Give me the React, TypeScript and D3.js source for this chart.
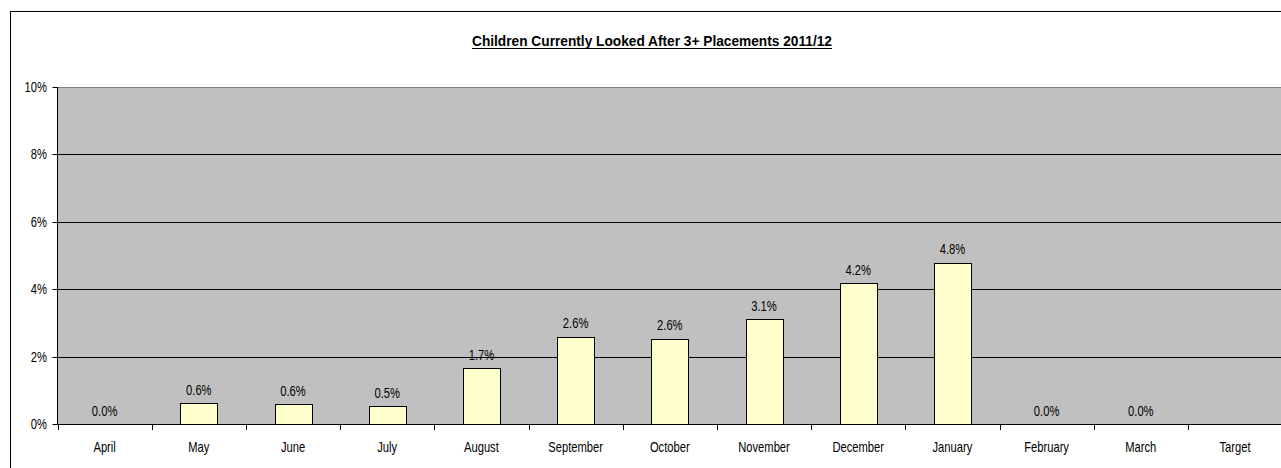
import React from "react";
import * as d3 from "d3";

const categories = ["April", "May", "June", "July", "August", "September", "October", "November", "December", "January", "February", "March", "Target"];
const values: (number | null)[] = [0.0, 0.61, 0.58, 0.53, 1.65, 2.59, 2.53, 3.11, 4.17, 4.78, 0.0, 0.0, null];
const valueLabels = ["0.0%", "0.6%", "0.6%", "0.5%", "1.7%", "2.6%", "2.6%", "3.1%", "4.2%", "4.8%", "0.0%", "0.0%", ""];
const yTicks = [0, 2, 4, 6, 8, 10];
const title = "Children Currently Looked After 3+ Placements 2011/12";

const W = 1281;
const H = 468;
const plotLeft = 57.5;
const plotRight = 57.5 + 13 * 94.2;
const plotTop = 87;
const plotBottom = 424;
const FONT = "'Liberation Sans', Arial, sans-serif";
const SX = 0.8;
const FS = 14;

export default function App() {
  const x = d3.scaleBand<string>().domain(categories).range([plotLeft, plotRight]).padding(0);
  const y = d3.scaleLinear().domain([0, 10]).range([plotBottom, plotTop]);
  const bw = x.bandwidth();
  const barW = 37;

  return (
    <div style={{ position: "fixed", left: 0, top: 0, width: W, height: H, background: "#fff" }}>
      <svg width={W} height={H} style={{ display: "block" }}>
        <rect x={10.5} y={11.5} width={W + 10} height={H + 10} fill="#fff" stroke="#000" strokeWidth={1} />
        {/* title */}
        <text x={472} y={46} fontFamily={FONT} fontWeight="bold" fontSize={15} textLength={360} lengthAdjust="spacingAndGlyphs" fill="#000">
          {title}
        </text>
        <line x1={472} x2={832} y1={48.5} y2={48.5} stroke="#000" strokeWidth={1} />
        {/* plot area */}
        <rect x={plotLeft} y={plotTop} width={plotRight - plotLeft} height={plotBottom - plotTop} fill="#C0C0C0" />
        <line x1={plotLeft} x2={plotRight} y1={y(10) + 0.5} y2={y(10) + 0.5} stroke="#808080" strokeWidth={1} />
        {yTicks.filter((t) => t > 0 && t < 10).map((t) => (
          <line key={"g" + t} x1={plotLeft} x2={plotRight} y1={Math.round(y(t)) + 0.5} y2={Math.round(y(t)) + 0.5} stroke="#000" strokeWidth={1} />
        ))}
        {/* bars */}
        {categories.map((c, i) => {
          const v = values[i];
          if (v === null || v <= 0) return null;
          const cx = (x(c) as number) + bw / 2;
          const top = Math.round(y(v)) + 0.5;
          return (
            <rect key={"b" + c} x={Math.round(cx - barW / 2) + 0.5} y={top} width={barW} height={plotBottom + 0.5 - top} fill="#FFFFCC" stroke="#000" strokeWidth={1} />
          );
        })}
        {/* value labels */}
        {categories.map((c, i) => {
          const v = values[i];
          if (v === null) return null;
          const cx = (x(c) as number) + bw / 2;
          return (
            <text key={"v" + c} transform={`translate(${cx},${y(v) - 8.5}) scale(${SX},1)`} textAnchor="middle" fontFamily={FONT} fontSize={FS} fill="#000">
              {valueLabels[i]}
            </text>
          );
        })}
        {/* axes */}
        <line x1={plotLeft} x2={plotLeft} y1={plotTop} y2={plotBottom + 0.5} stroke="#000" strokeWidth={1} />
        <line x1={plotLeft} x2={plotRight} y1={plotBottom + 0.5} y2={plotBottom + 0.5} stroke="#000" strokeWidth={1} />
        {yTicks.map((t) => (
          <g key={"yt" + t}>
            <line x1={plotLeft - 5} x2={plotLeft} y1={Math.round(y(t)) + 0.5} y2={Math.round(y(t)) + 0.5} stroke="#000" strokeWidth={1} />
            <text transform={`translate(47,${y(t) + 5}) scale(${SX},1)`} textAnchor="end" fontFamily={FONT} fontSize={FS} fill="#000">
              {t + "%"}
            </text>
          </g>
        ))}
        {categories.map((c) => (
          <line key={"xt" + c} x1={Math.round(x(c) as number) + 0.5} x2={Math.round(x(c) as number) + 0.5} y1={plotBottom} y2={plotBottom + 6} stroke="#000" strokeWidth={1} />
        ))}
        {categories.map((c) => (
          <text key={"xl" + c} transform={`translate(${(x(c) as number) + bw / 2},${451.5}) scale(${SX},1)`} textAnchor="middle" fontFamily={FONT} fontSize={FS} fill="#000">
            {c}
          </text>
        ))}
      </svg>
    </div>
  );
}
